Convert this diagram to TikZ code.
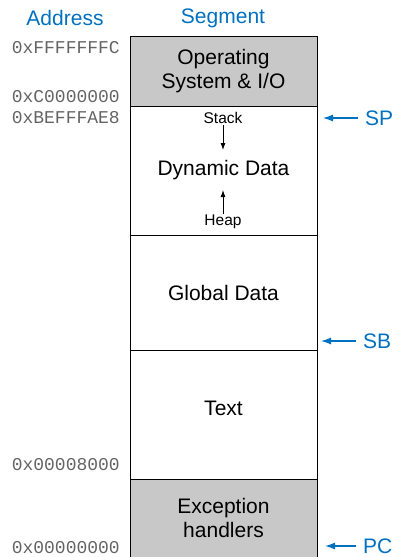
\documentclass[tikz,border=0pt]{standalone}
\usepackage{fontspec}
\setmainfont{Liberation Sans}
\setmonofont{Liberation Mono}
\usepackage{xcolor}
\usetikzlibrary{arrows.meta}
\definecolor{memblue}{RGB}{0, 112, 192}
\definecolor{memgray}{RGB}{200, 200, 200}
\definecolor{addrgray}{RGB}{100, 100, 100}

\tikzset{
  seg/.style={draw=black, line width=0.9pt, minimum width=187pt, inner sep=0pt,
    align=center, font=\fontsize{21}{24}\selectfont},
  addr/.style={anchor=east, inner sep=0pt, text=addrgray, font=\ttfamily\fontsize{18}{20}\selectfont},
  head/.style={text=memblue, inner sep=0pt, font=\fontsize{21}{24}\selectfont},
  reg/.style={anchor=west, text=memblue, inner sep=0pt, font=\fontsize{21}{24}\selectfont},
  small/.style={inner sep=1pt, font=\fontsize{15.5}{18}\selectfont},
}

\begin{document}
\begin{tikzpicture}[x=1pt, y=-1pt]
  \useasboundingbox (0,0) rectangle (394,557);

  % column heads
  \node[head] (address) at (65,18) {Address};
  \node[head] (segment) at (223,18) {Segment};

  % memory segments
  \node[seg, fill=memgray, minimum height=70pt] (os) at (223.5,71) {Operating\\System \& I/O};
  \node[seg, fill=white, minimum height=129pt] (dyn) at (223.5,170.5) {Dynamic Data};
  \node[seg, fill=white, minimum height=115pt] (global) at (223.5,292.5) {Global Data};
  \node[seg, fill=white, minimum height=129pt] (text) at (223.5,414.5) {};
  \node at (223.5,408) [font=\fontsize{21}{24}\selectfont] (textlbl) {Text};
  \node[seg, fill=memgray, minimum height=78pt] (exc) at (223.5,518) {Exception\\handlers};

  % stack and heap
  \node[small] (stack) at (223,118) {Stack};
  \node[small] (heap) at (223,222) {Heap};
  \coordinate (stack tip) at (223,150);
  \coordinate (heap tip) at (223,190);
  \draw[-{Latex[length=7pt,width=5pt]}, line width=0.9pt] (stack) -- (stack tip);
  \draw[-{Latex[length=7pt,width=5pt]}, line width=0.9pt] (heap) -- (heap tip);

  % addresses
  \node[addr] (a1) at (120,48) {0xFFFFFFFC};
  \node[addr] (a2) at (120,97) {0xC0000000};
  \node[addr] (a3) at (120,118) {0xBEFFFAE8};
  \node[addr] (a4) at (120,465) {0x00008000};
  \node[addr] (a5) at (120,548) {0x00000000};

  % registers
  \node[reg] (sp) at (365,118) {SP};
  \node[reg] (sb) at (363,341) {SB};
  \node[reg] (pc) at (363,546) {PC};
  \coordinate (sp tip) at (323,118);
  \coordinate (sb tip) at (321,341);
  \coordinate (pc tip) at (325,546);
  \foreach \r in {sp,sb,pc}
    \draw[-{Latex[length=10pt,width=7pt]}, memblue, line width=1.3pt] ([xshift=-7pt]\r.west) -- (\r\space tip);
\end{tikzpicture}
\end{document}
